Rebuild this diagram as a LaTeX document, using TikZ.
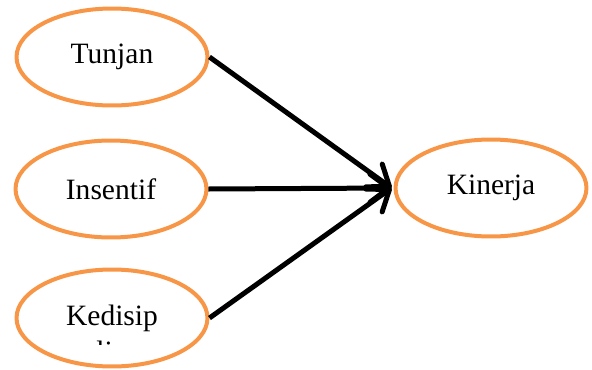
\documentclass[tikz,border=0pt]{standalone}
\usepackage{fontspec}
\setmainfont{Liberation Serif}
\usepackage{tikz}
\usetikzlibrary{calc,shapes.geometric,arrows.meta}
\definecolor{varorange}{HTML}{F79646}
\def\varnode{\node[ellipse,draw=varorange,line width=0.08cm,minimum width=3.82cm,minimum height=1.94cm,inner sep=0pt,font=\fontsize{16.8}{20}\selectfont]}
\def\drawarr{\draw[line width=0.1cm,-{Straight Barb[length=0.38cm,width=0.56cm,round]}]}

\begin{document}
\begin{tikzpicture}[x=0.02cm,y=-0.02cm]
\useasboundingbox (0,0) rectangle (592,369);

% -------- the three causes ---------
\varnode (tunjan) at (112,57) {Tunjan};
\varnode (insentif) at (111,189) {Insentif};
\varnode (kedisip) at (112,318) {Kedisip};
% second line of the label, cut off by the text box
\begin{scope}
\clip (20,330) rectangle (200,344);
\node[anchor=base,inner sep=0pt,font=\fontsize{16.8}{20}\selectfont] (kedisip_lin) at ($ (kedisip.base) + (0,36) $) {lin};
\end{scope}

% -------- the effect ---------
\varnode (kinerja) at (491,188) {Kinerja};

% arrows meet at the left of kinerja
\coordinate (tip) at ($ (kinerja.west) + (-2,0) $);
\drawarr (tunjan.east) -- (tip);
\drawarr (insentif.east) -- (tip);
\drawarr (kedisip.east) -- (tip);
\end{tikzpicture}
\end{document}
